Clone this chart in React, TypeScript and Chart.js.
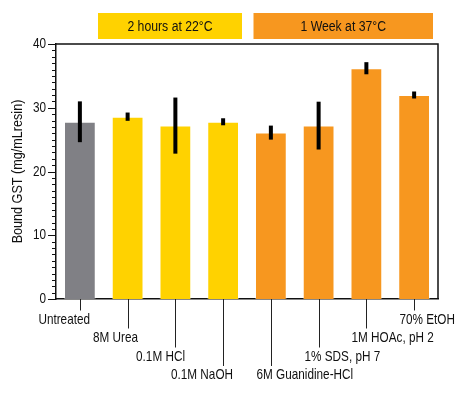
import React, { useEffect, useRef } from "react";
import { Chart, registerables } from "chart.js";

Chart.register(...registerables);

// Treatments applied to the resin before binding
const categories = [
  "Untreated",
  "8M Urea",
  "0.1M HCl",
  "0.1M NaOH",
  "6M Guanidine-HCl",
  "1% SDS, pH 7",
  "1M HOAc, pH 2",
  "70% EtOH",
];
// Bound GST (mg/mL resin) and its error (±)
const boundGST = [27.8, 28.6, 27.2, 27.8, 26.1, 27.2, 36.2, 32.0];
const boundErr = [3.2, 0.65, 4.4, 0.55, 1.1, 3.75, 0.95, 0.55];
// 0 = untreated, 1 = 2 hours at 22°C, 2 = 1 week at 37°C
const condition = [0, 1, 1, 1, 2, 2, 2, 2];
// stagger level of each category label
const labelTier = [0, 1, 2, 3, 3, 2, 1, 0];
const legendLabels = ["2 hours at 22°C", "1 Week at 37°C"];
const yTicks = [0, 10, 20, 30, 40];

const GRAY = "#808085";
const YELLOW = "#ffd200";
const ORANGE = "#f7971f";
const conditionColors = [GRAY, YELLOW, ORANGE];
const FONT = "'Liberation Sans', Arial, sans-serif";
const TEXT = "#111";

// condensed text: squeeze the glyphs horizontally around the anchor
function narrowText(
  ctx: CanvasRenderingContext2D,
  text: string,
  x: number,
  y: number,
  size: number,
  squeeze: number,
  align: CanvasTextAlign
) {
  ctx.save();
  ctx.translate(x, y);
  ctx.scale(squeeze, 1);
  ctx.font = `${size}px ${FONT}`;
  ctx.textAlign = align;
  ctx.textBaseline = "middle";
  ctx.fillText(text, 0, 0);
  ctx.restore();
}

const decorations = {
  id: "decorations",
  afterDatasetsDraw(chart: any) {
    const { ctx, chartArea } = chart;
    const x = chart.scales.x;
    const y = chart.scales.y;
    ctx.save();

    // error bars
    ctx.strokeStyle = "#000";
    ctx.lineWidth = 4;
    ctx.lineCap = "butt";
    boundGST.forEach((v, i) => {
      const px = x.getPixelForValue(i);
      ctx.beginPath();
      ctx.moveTo(px, y.getPixelForValue(v + boundErr[i]));
      ctx.lineTo(px, y.getPixelForValue(v - boundErr[i]));
      ctx.stroke();
    });

    // top and right frame lines
    ctx.lineWidth = 1.5;
    ctx.strokeStyle = "#111";
    ctx.beginPath();
    ctx.moveTo(chartArea.left, chartArea.top);
    ctx.lineTo(chartArea.right, chartArea.top);
    ctx.lineTo(chartArea.right, chartArea.bottom);
    ctx.stroke();

    // y ticks: major every 10, minor every 1
    ctx.lineWidth = 1;
    for (let v = 0; v <= 40; v++) {
      const major = v % 10 === 0;
      const py = Math.round(y.getPixelForValue(v)) + 0.5;
      ctx.beginPath();
      ctx.moveTo(chartArea.left - (major ? 8 : 4), py);
      ctx.lineTo(chartArea.left, py);
      ctx.stroke();
    }
    ctx.fillStyle = TEXT;
    yTicks.forEach((v) => {
      narrowText(ctx, String(v), chartArea.left - 10, y.getPixelForValue(v), 14.5, 0.81, "right");
    });

    // staggered category ticks; labels on the left half end just past their
    // tick, labels on the right half start just before it
    const tickEnds = [11.5, 29.5, 48.5, 67];
    const labelCenters = [20.5, 39, 57.5, 75.5];
    const half = categories.length / 2;
    ctx.strokeStyle = "#222";
    categories.forEach((c, i) => {
      const px = Math.round(x.getPixelForValue(i)) + 0.5;
      const t = labelTier[i];
      ctx.beginPath();
      ctx.moveTo(px, chartArea.bottom);
      ctx.lineTo(px, chartArea.bottom + tickEnds[t]);
      ctx.stroke();
      const leftSide = i < half;
      narrowText(
        ctx,
        c,
        leftSide ? px + 9.5 : px - 15,
        chartArea.bottom + labelCenters[t],
        14.5,
        0.81,
        leftSide ? "right" : "left"
      );
    });

    // condition legend boxes
    const boxes = [
      { x0: 98, x1: 242, color: YELLOW, text: legendLabels[0] },
      { x0: 253.5, x1: 433, color: ORANGE, text: legendLabels[1] },
    ];
    boxes.forEach((b) => {
      ctx.fillStyle = b.color;
      ctx.fillRect(b.x0, 13, b.x1 - b.x0, 26);
      ctx.fillStyle = TEXT;
      narrowText(ctx, b.text, (b.x0 + b.x1) / 2, 26.5, 15.5, 0.79, "center");
    });

    // y axis title
    ctx.save();
    ctx.translate(18, (chartArea.top + chartArea.bottom) / 2);
    ctx.rotate(-Math.PI / 2);
    ctx.fillStyle = TEXT;
    narrowText(ctx, "Bound GST (mg/mLresin)", 0, 0, 14.5, 0.87, "center");
    ctx.restore();

    ctx.restore();
  },
};

export default function App() {
  const ref = useRef<HTMLCanvasElement | null>(null);

  useEffect(() => {
    document.body.style.margin = "0";
    const canvas = ref.current;
    if (!canvas) return;
    const chart = new Chart(canvas, {
      type: "bar",
      data: {
        labels: categories,
        datasets: [
          {
            data: boundGST,
            backgroundColor: condition.map((c) => conditionColors[c]),
            borderColor: "rgba(255,255,255,0.35)",
            borderWidth: 1,
            barPercentage: 0.665,
            categoryPercentage: 1,
          },
        ],
      },
      options: {
        responsive: false,
        animation: false,
        layout: { padding: { top: 44, right: 32, left: 0, bottom: 0 } },
        plugins: {
          legend: { display: false },
          tooltip: { enabled: false },
        },
        scales: {
          x: {
            grid: { display: false },
            ticks: { display: false },
            border: { display: true, color: "#111", width: 1.5 },
            afterFit: (s: any) => {
              s.height = 96;
            },
          },
          y: {
            min: 0,
            max: 40,
            afterBuildTicks: (s: any) => {
              s.ticks = yTicks.map((v) => ({ value: v }));
            },
            ticks: { display: false },
            grid: { display: false },
            border: { display: true, color: "#111", width: 1.5 },
            afterFit: (s: any) => {
              s.width = 56;
            },
          },
        },
      },
      plugins: [decorations],
    });
    return () => chart.destroy();
  }, []);

  return (
    <div style={{ width: 470, height: 395, background: "#fff" }}>
      <canvas ref={ref} width={470} height={395} />
    </div>
  );
}
